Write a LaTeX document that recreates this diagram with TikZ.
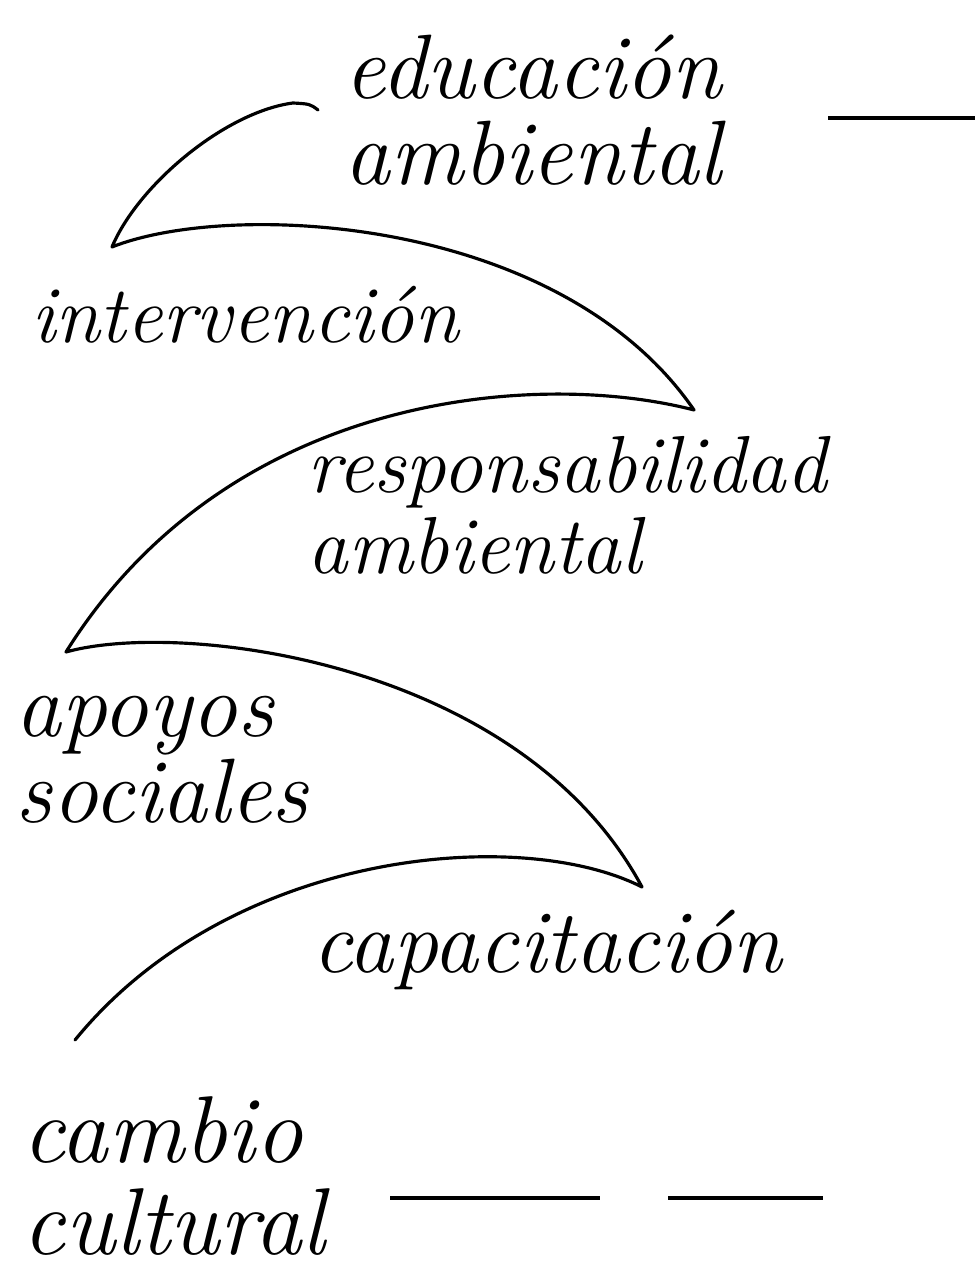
\documentclass[tikz,border=0pt]{standalone}
\usepackage{tikz}
\usetikzlibrary{calc}

\begin{document}
\begin{tikzpicture}[x=0.01cm, y=-0.01cm,
		lbl/.style 2 args={inner sep=0pt, font=\fontsize{#1}{#2}\selectfont\itshape},
		hook/.style={line width=0.9pt, line cap=round, line join=round},
		blank/.style={line width=1.2pt}]
		%%%%% START %%%%%
		
		\useasboundingbox (0, 0) rectangle (976, 1271);
		
		\node[lbl={26}{24.5}, align=center] (edu) at (533, 110) {educación\\ambiental};
		\node[lbl={23}{24}] (inter) at (245, 315) {intervención};
		\node[lbl={23}{23}, align=left, anchor=west] (resp) at (307, 505) {responsabilidad\\ambiental};
		\node[lbl={26}{17.5}, align=left, anchor=west] (apoyos) at (15, 760) {apoyos\\sociales};
		\node[lbl={25.5}{24}] (capac) at (547, 950) {capacitación};
		\node[lbl={27}{26}, align=left, anchor=west] (cambio) at (22, 1176) {cambio\\cultural};
		
		\coordinate (t0) at (318, 110);
		\coordinate (t1) at (293, 103);
		\coordinate (t2) at (112, 247);
		\coordinate (t3) at (694, 410);
		\coordinate (t4) at (66, 652);
		\coordinate (t5) at (642, 887);
		\coordinate (t6) at (75, 1040);
		
		\draw[hook] (t0) .. controls (310, 104) .. (t1)
			.. controls (225, 112) and (138, 185) .. (t2)
			.. controls (230, 200) and (560, 215) .. (t3)
			.. controls (540, 370) and (230, 390) .. (t4)
			.. controls (180, 620) and (520, 660) .. (t5)
			.. controls (520, 825) and (230, 850) .. (t6);
		
		\coordinate (r0) at (828, 118);
		\coordinate (r1) at (975, 118);
		\draw[blank] (r0) -- (r1);
		
		\coordinate (b0) at (390, 1198);
		\coordinate (b1) at (600, 1198);
		\coordinate (b2) at (668, 1198);
		\coordinate (b3) at (823, 1198);
		\draw[blank] (b0) -- (b1);
		\draw[blank] (b2) -- (b3);
		
		%%%%% END %%%%%
	\end{tikzpicture}
\end{document}
